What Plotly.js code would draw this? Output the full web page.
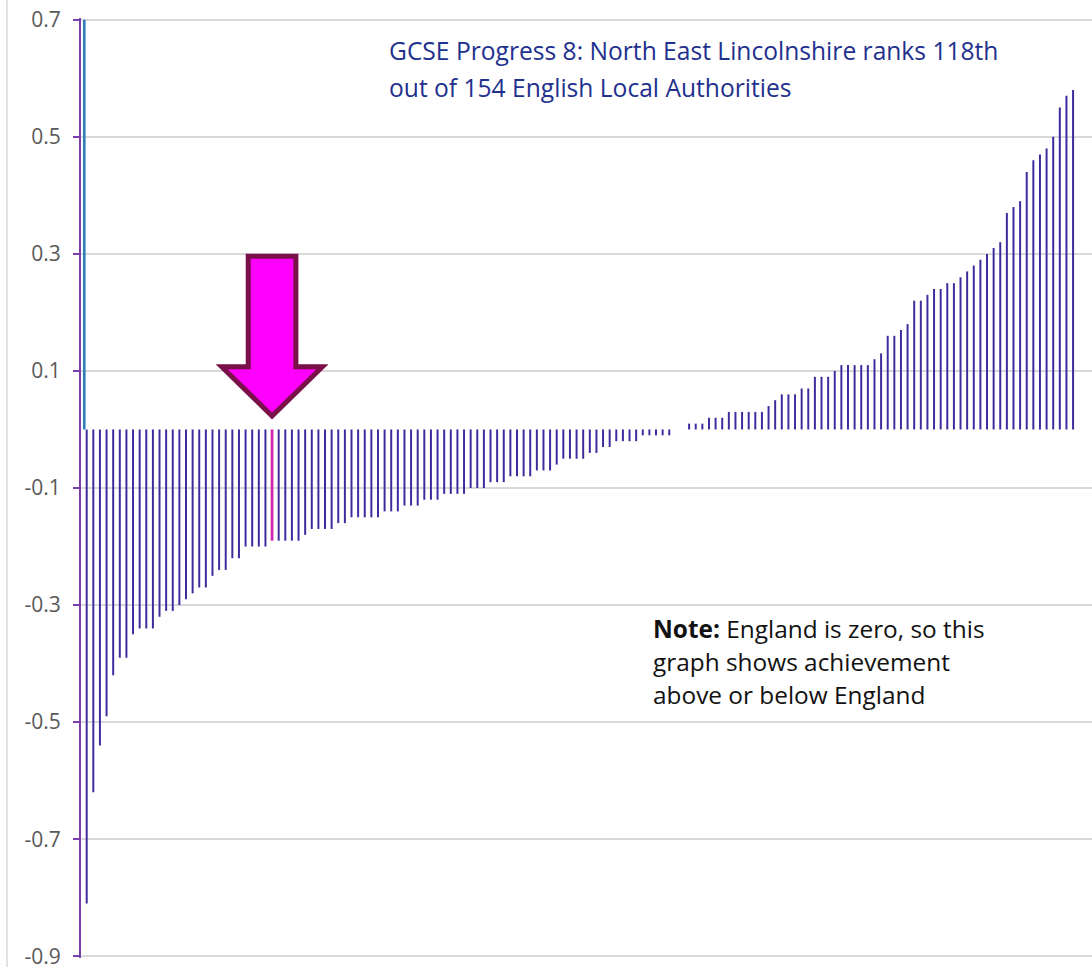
<!DOCTYPE html>
<html>
<head>
<meta charset="utf-8">
<script src="https://cdn.plot.ly/plotly-3.0.1.min.js"></script>
<style>
  html, body { margin: 0; padding: 0; background: #fff; }
  #chart { width: 1092px; height: 967px; }
</style>
</head>
<body>
<div id="chart"></div>
<script>
// Progress 8 by local authority, sorted low to high (England = 0)
const progress8 = [
  -0.81, -0.62, -0.54, -0.49, -0.42, -0.39, -0.39, -0.35, -0.34, -0.34,
  -0.34, -0.32, -0.31, -0.31, -0.30, -0.29, -0.28, -0.27, -0.27, -0.25,
  -0.24, -0.24, -0.22, -0.22, -0.20, -0.20, -0.20, -0.20, -0.19, -0.19,
  -0.19, -0.19, -0.19, -0.18, -0.17, -0.17, -0.17, -0.17, -0.16, -0.16,
  -0.15, -0.15, -0.15, -0.15, -0.15, -0.14, -0.14, -0.14, -0.13, -0.13,
  -0.13, -0.12, -0.12, -0.12, -0.11, -0.11, -0.11, -0.11, -0.10, -0.10,
  -0.10, -0.09, -0.09, -0.09, -0.08, -0.08, -0.08, -0.08, -0.07, -0.07,
  -0.07, -0.06, -0.05, -0.05, -0.05, -0.05, -0.04, -0.04, -0.03, -0.03,
  -0.02, -0.02, -0.02, -0.02, -0.01, -0.01, -0.01, -0.01, -0.01, 0.00,
  0.00, 0.01, 0.01, 0.01, 0.02, 0.02, 0.02, 0.03, 0.03, 0.03,
  0.03, 0.03, 0.03, 0.04, 0.05, 0.06, 0.06, 0.06, 0.07, 0.07,
  0.09, 0.09, 0.09, 0.10, 0.11, 0.11, 0.11, 0.11, 0.11, 0.12,
  0.13, 0.16, 0.16, 0.17, 0.18, 0.22, 0.22, 0.23, 0.24, 0.24,
  0.25, 0.25, 0.26, 0.27, 0.28, 0.29, 0.30, 0.31, 0.32, 0.37,
  0.38, 0.39, 0.44, 0.46, 0.47, 0.48, 0.50, 0.55, 0.57, 0.58
];
const highlightPos = 29; // North East Lincolnshire
const markerX = [0.64];
const markerY = [0.7];

const yTickVals = [-0.9, -0.7, -0.5, -0.3, -0.1, 0.1, 0.3, 0.5, 0.7];
const yTickText = ['-0.9', '-0.7', '-0.5', '-0.3', '-0.1', '0.1', '0.3', '0.5', '0.7'];

const titleLines = [
  'GCSE Progress 8: North East Lincolnshire ranks 118th',
  'out of 154 English Local Authorities'
];
const noteLines = [
  '<b>Note:</b> England is zero, so this',
  'graph shows achievement',
  'above or below England'
];

const barColor = '#3d2b9e';
const pinkColor = '#d126b0';

const xs = progress8.map((v, i) => i + 1);

const bars = {
  type: 'bar',
  x: xs,
  y: progress8,
  width: xs.map(x => x === highlightPos ? 0.42 : 0.3),
  marker: { color: xs.map(x => x === highlightPos ? pinkColor : barColor) },
  hoverinfo: 'x+y'
};

const marker = {
  type: 'bar',
  x: markerX,
  y: markerY,
  width: 0.38,
  marker: { color: '#2a7ab8' },
  hoverinfo: 'skip'
};

// big arrow pointing down at the highlighted bar
const ax = highlightPos;
const arrowPath = `M ${ax - 3.6},0.296 L ${ax + 3.6},0.296 L ${ax + 3.6},0.107 ` +
  `L ${ax + 7.6},0.107 L ${ax},0.023 L ${ax - 7.6},0.107 L ${ax - 3.6},0.107 Z`;

// plot area runs from y=18 to y=958 px
const pyToPaper = py => (958 - py) / 940;

const annotations = [];
titleLines.forEach((t, i) => {
  annotations.push({
    xref: 'paper', yref: 'paper', x: 0.3025, y: pyToPaper([50, 87][i]),
    xanchor: 'left', yanchor: 'middle', showarrow: false, align: 'left',
    text: t,
    font: { family: 'Open Sans, sans-serif', size: 24.6, color: '#22308e' }
  });
});
noteLines.forEach((t, i) => {
  annotations.push({
    xref: 'paper', yref: 'paper', x: 0.5635, y: pyToPaper([628, 661, 694][i]),
    xanchor: 'left', yanchor: 'middle', showarrow: false, align: 'left',
    text: t,
    font: { family: 'Open Sans, sans-serif', size: 24.4, color: '#111111' }
  });
});

const layout = {
  width: 1092,
  height: 967,
  margin: { l: 81, r: 0, t: 18, b: 9 },
  paper_bgcolor: '#ffffff',
  plot_bgcolor: '#ffffff',
  showlegend: false,
  barmode: 'overlay',
  xaxis: {
    range: [0.139, 152.86],
    visible: false,
    fixedrange: true
  },
  yaxis: {
    range: [-0.903, 0.703],
    tickvals: yTickVals,
    ticktext: yTickText,
    showgrid: true,
    gridcolor: '#d9d9d9',
    gridwidth: 1.5,
    zeroline: false,
    showline: true,
    linecolor: '#7b3fae',
    linewidth: 2,
    ticks: 'outside',
    ticklen: 6,
    tickwidth: 2,
    tickcolor: '#7b3fae',
    ticklabelstandoff: 8,
    ticklabeloverflow: 'allow',
    tickfont: { family: 'Open Sans, sans-serif', size: 21, color: '#595959' },
    fixedrange: true
  },
  shapes: [
    {
      type: 'line', xref: 'paper', yref: 'paper',
      x0: -0.0732, x1: -0.0732, y0: -0.02, y1: 1.03,
      line: { color: '#d9d9d9', width: 1.5 }
    },
    {
      type: 'path', xref: 'x', yref: 'y', layer: 'above',
      path: arrowPath,
      fillcolor: '#ff00ff',
      line: { color: '#7a1048', width: 5 }
    }
  ],
  annotations: annotations
};

Plotly.newPlot('chart', [bars, marker], layout, { displayModeBar: false, staticPlot: true });
</script>
</body>
</html>
